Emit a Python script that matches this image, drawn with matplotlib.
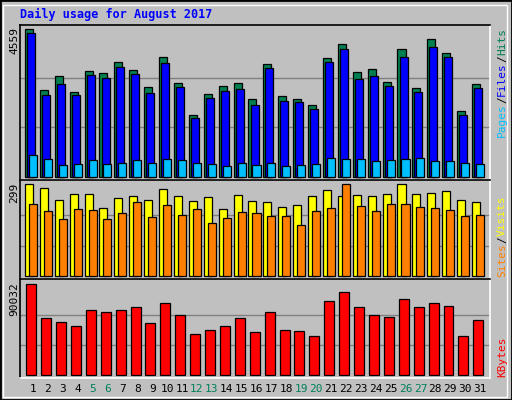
import matplotlib
matplotlib.use("Agg")
import matplotlib.pyplot as plt
from matplotlib.patches import Rectangle
import numpy as np

days = list(range(1, 32))
weekend = [5, 6, 12, 13, 19, 20, 26, 27]
hits = [4559, 2667, 3101, 2605, 3256, 3194, 3535, 3287, 2760, 3690, 2884, 1892, 2543, 2791, 2884, 2388,
        3473, 2481, 2388, 2202, 3659, 4094, 3225, 3318, 2915, 3939, 2729, 4249, 3814, 2016, 2853]
files = [4435, 2512, 2853, 2512, 3132, 3039, 3380, 3163, 2574, 3504, 2760, 1799, 2419, 2636, 2698, 2202,
         3349, 2326, 2295, 2078, 3535, 3939, 3008, 3101, 2791, 3690, 2605, 4000, 3690, 1892, 2729]
pages = [650, 530, 370, 400, 500, 400, 430, 500, 430, 530, 500, 430, 400, 340, 430, 370,
         430, 340, 370, 400, 560, 530, 530, 470, 500, 530, 560, 470, 470, 430, 400]
visits = [299, 286, 247, 266, 266, 221, 253, 260, 247, 283, 260, 244, 257, 218, 263, 244,
          240, 224, 231, 260, 279, 260, 263, 260, 266, 299, 266, 270, 276, 247, 240]
sites = [234, 211, 185, 218, 214, 185, 205, 240, 192, 231, 198, 218, 172, 188, 208, 205,
         195, 195, 166, 211, 221, 299, 228, 211, 234, 234, 224, 221, 214, 195, 198]
kb_px = [328, 430, 442, 454, 406, 412, 406, 397, 445, 385, 421, 478, 466, 454, 430, 472,
         412, 466, 469, 484, 379, 352, 397, 421, 427, 373, 397, 385, 394, 484, 436]
kbytes = [round((601 - y) / 273 * 90032) for y in kb_px]

BG = "#C0C0C0"
W, H = 512, 400
fig = plt.figure(figsize=(5.12, 4.0), dpi=100, facecolor=BG)
mono = "DejaVu Sans Mono"

def ax_at(x0, y0, x1, y1):
    a = fig.add_axes([x0 / W, 1 - y1 / H, (x1 - x0) / W, (y1 - y0) / H])
    a.set_facecolor(BG)
    a.spines["left"].set_color("black"); a.spines["top"].set_color("black")
    a.spines["right"].set_color("white"); a.spines["bottom"].set_color("white")
    for s in a.spines.values():
        s.set_linewidth(1.2)
    a.set_xticks([]); a.set_yticks([])
    a.set_xlim(0.13, 31.67)
    return a

x = np.array(days, dtype=float)
ek = dict(edgecolor="black", linewidth=0.9, align="edge")

a1 = ax_at(20, 25, 490, 180)
mx = max(hits)
a1.set_ylim(-108, 4683)
for g in (mx / 3, 2 * mx / 3):
    a1.axhline(g, color="#808080", lw=1, zorder=0)
a1.bar(x - 0.54, hits, width=0.54, color="#008050", **ek)
a1.bar(x - 0.40, files, width=0.54, color="#0000FF", **ek)
a1.bar(x - 0.27, pages, width=0.54, color="#00BFFF", **ek)

a2 = ax_at(20, 180, 490, 279)
a2.set_ylim(-8.8, 313)
for g in (100, 200):
    a2.axhline(g, color="#808080", lw=1, zorder=0)
a2.bar(x - 0.54, visits, width=0.54, color="#FFFF00", **ek)
a2.bar(x - 0.27, sites, width=0.54, color="#FF8000", **ek)

a3 = ax_at(20, 279, 490, 378)
a3.set_ylim(-2670, 95260)
for g in (90032 / 3, 2 * 90032 / 3):
    a3.axhline(g, color="#808080", lw=1, zorder=0)
a3.bar(x - 0.45, kbytes, width=0.67, color="#FF0000", **ek)

def fpos(px, py):
    return px / W, 1 - py / H

fig.text(*fpos(20, 14), "Daily usage for August 2017", family=mono, weight="bold",
         color="#0000FF", fontsize=8.5, va="center", ha="left")

for a, top, lab in ((a1, 27, "4559"), (a2, 183, "299"), (a3, 282, "90032")):
    fig.text(*fpos(14, top), lab, family=mono, fontsize=8, rotation=90, ha="center", va="top")

for d in days:
    xp = 33 + 14.9 * (d - 1)
    fig.text(*fpos(xp, 389), str(d), family=mono, fontsize=8, ha="center", va="center",
             color="#00805C" if d in weekend else "black")

cw = 6.8
def stack(bottom, parts):
    y = bottom
    for s, c in parts:
        fig.text(*fpos(502, y), s, family=mono, fontsize=8, rotation=90, ha="center",
                 va="bottom", color=c)
        y -= len(s) * cw

stack(137, [("Pages", "#00BFFF"), ("/", "black"), ("Files", "#0000FF"), ("/", "black"), ("Hits", "#008050")])
stack(277, [("Sites", "#FF8000"), ("/", "black"), ("Visits", "#FFFF00")])
stack(377, [("KBytes", "#FF0000")])

# frame
fig.patches.append(Rectangle((0, 0), 1, 1, transform=fig.transFigure, fill=False,
                             edgecolor="black", linewidth=2))
fig.patches.append(Rectangle((3 / W, 3 / H), (W - 8) / W, (H - 8) / H, transform=fig.transFigure,
                             fill=False, edgecolor="white", linewidth=1))

fig.savefig("out.png", dpi=100, facecolor=BG)
